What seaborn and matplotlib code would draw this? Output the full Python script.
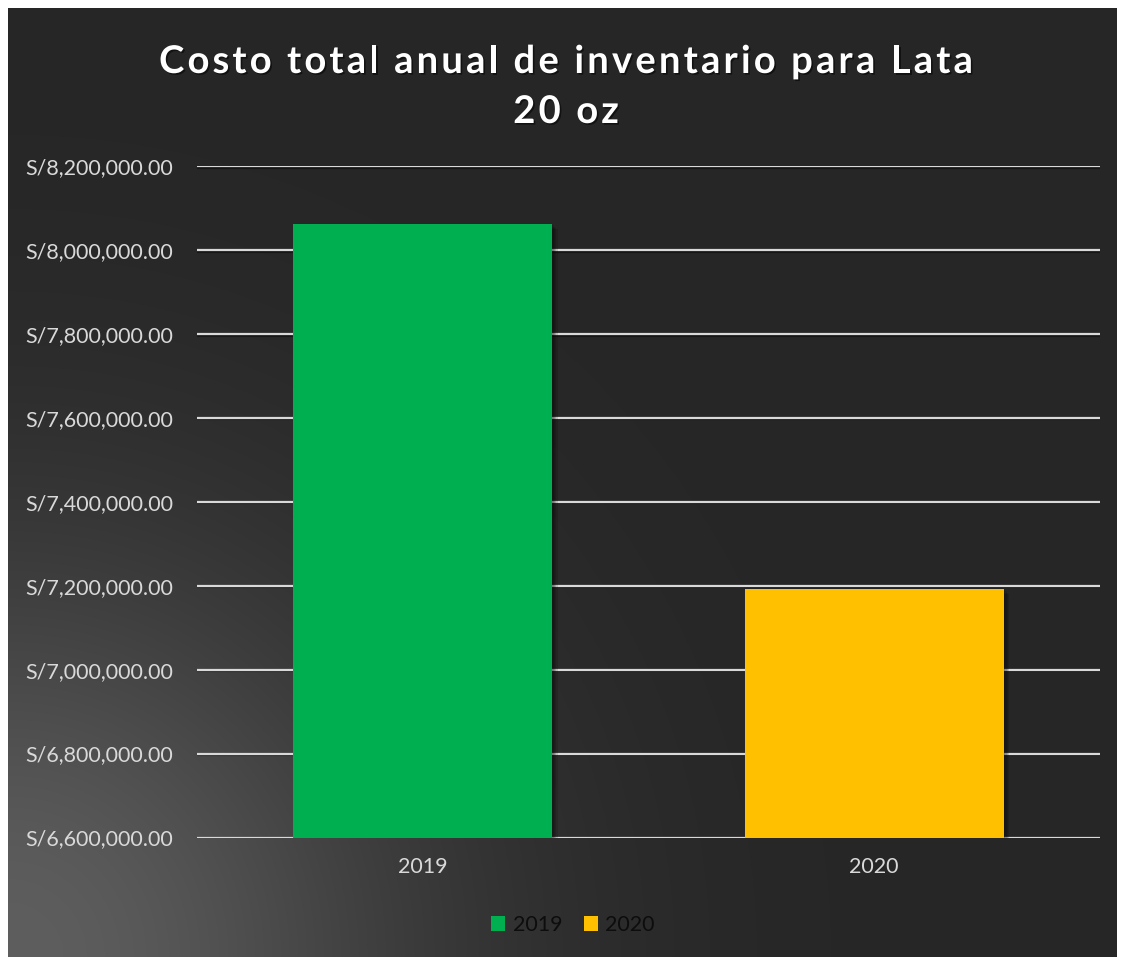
import numpy as np
import pandas as pd
import matplotlib
matplotlib.use("Agg")
import matplotlib.pyplot as plt
import matplotlib.patheffects as pe
from matplotlib.patches import Patch
from matplotlib.font_manager import FontProperties
from matplotlib.ticker import FuncFormatter
import seaborn as sns

# Data
years = ["2019", "2020"]
costs = [8062000, 7193000]
bar_colors = ["#00B050", "#FFC000"]
y_ticks = [6600000, 6800000, 7000000, 7200000, 7400000, 7600000, 7800000, 8000000, 8200000]
title_lines = ["Costo total anual de inventario para Lata", "20 oz"]

sns.set_theme(style="dark")
plt.rcParams["font.family"] = ["Lato", "DejaVu Sans"]

W, H = 1125, 957
fig = plt.figure(figsize=(W / 100, H / 100), dpi=100, facecolor="white")

# Dark panel with a soft radial glow from the lower-left corner
bg = fig.add_axes([8 / W, 0, (W - 16) / W, (H - 8) / H])
bg.set_axis_off()
pw, ph = W - 16, H - 8
xx, yy = np.meshgrid(np.arange(pw), np.arange(ph))
d = np.hypot(xx, ph - yy)
v = (38 + 56 * np.exp(-(d / 410.0) ** 2)) / 255.0
img = np.dstack([v, v, v])
bg.imshow(img, aspect="auto", extent=[0, 1, 0, 1], origin="upper")
bg.set_xlim(0, 1)
bg.set_ylim(0, 1)

df = pd.DataFrame({"year": years, "cost": costs})

ax = fig.add_axes([197 / W, 1 - 837.5 / H, 903 / W, 671.5 / H])
ax.patch.set_alpha(0)
sns.barplot(data=df, x="year", y="cost", hue="year", palette=bar_colors,
            width=0.574, legend=False, ax=ax, zorder=3, saturation=1,
            edgecolor="none", linewidth=0)

soft_shadow = [pe.SimplePatchShadow(offset=(k, -k), shadow_rgbFace="black", alpha=0.13)
               for k in (4, 3, 2, 1)]
for bar in ax.patches:
    bar.set_path_effects(soft_shadow + [pe.Normal()])

ax.set_ylim(y_ticks[0], y_ticks[-1])
ax.set_yticks(y_ticks)
ax.yaxis.set_major_formatter(FuncFormatter(lambda val, pos: f"S/{val:,.2f}"))
ax.grid(axis="y", color="#d9d9d9", linewidth=1.6, zorder=0,
        path_effects=[pe.SimpleLineShadow(offset=(0, -1.2), shadow_color="black", alpha=0.4), pe.Normal()])
ax.grid(axis="x", visible=False)
for s in ax.spines.values():
    s.set_visible(False)
ax.tick_params(axis="y", length=0, pad=17, labelsize=15.5, labelcolor="#d9d9d9")
ax.tick_params(axis="x", length=0, pad=14, labelsize=15.5, labelcolor="#d9d9d9")
ax.set_xlabel("")
ax.set_ylabel("")

# Letter-spaced bold title, centred on the chart panel
fp = FontProperties(family=["Lato", "DejaVu Sans"], weight="bold", size=27.5)
renderer = fig.canvas.get_renderer()


def advance(s):
    w_all = renderer.get_text_width_height_descent("|" + s + "|", fp, ismath=False)[0]
    w_bar = renderer.get_text_width_height_descent("||", fp, ismath=False)[0]
    return w_all - w_bar


spacing = 3.1
title_shadow = [pe.withSimplePatchShadow(offset=(1.2, -1.2), shadow_rgbFace="black", alpha=0.5)]
for line, baseline in zip(title_lines, (73, 123)):
    total = advance(line) + spacing * (len(line) - 1)
    x0 = 566 - total / 2
    for i, ch in enumerate(line):
        if ch == " ":
            continue
        xi = x0 + advance(line[:i]) + spacing * i
        fig.text(xi / W, 1 - baseline / H, ch, ha="left", va="baseline",
                 fontproperties=fp, color="white", path_effects=title_shadow)

handles = [Patch(facecolor=c, edgecolor="none") for c in bar_colors]
fig.legend(handles, years, loc="center", bbox_to_anchor=(573 / W, 1 - 925 / H),
           ncol=2, frameon=False, fontsize=15.5, labelcolor="#0d0d0d",
           handlelength=0.65, handleheight=0.65, handletextpad=0.35, columnspacing=1.0)

fig.savefig("out.png", dpi=100, facecolor="white")
